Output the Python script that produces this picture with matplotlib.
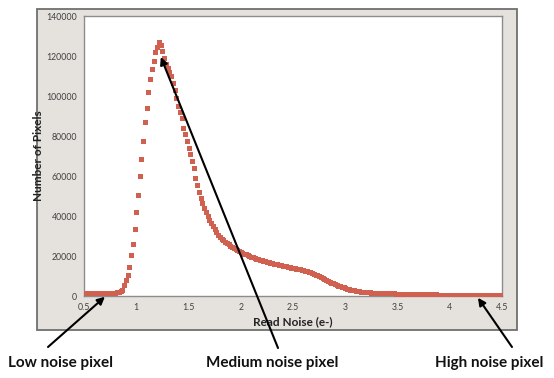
import numpy as np
import matplotlib
matplotlib.use('Agg')
import matplotlib.pyplot as plt
from matplotlib.patches import Rectangle

plt.rcParams['font.family'] = ['Lato', 'DejaVu Sans']

# read noise axis, one sample every 1/60 e-
read_noise = 0.5 + np.arange(241) / 60.0

# number of pixels (thousands)
pixels_k = [
    1.4, 1.5, 1.5, 1.5, 1.5, 1.5, 1.5, 1.5, 1.5, 1.4,
    1.4, 1.4, 1.4, 1.4, 1.4, 1.4, 1.5, 1.5, 1.6, 1.8,
    2.1, 2.5, 3.0, 5.5, 8.0, 10.7, 14.7, 20.3, 26.0, 33.7,
    42.0, 50.5, 60.2, 68.5, 77.5, 87.0, 93.8, 101.8, 108.5, 113.3,
    117.5, 121.8, 124.7, 127.2, 125.5, 122.5, 119.0, 116.0, 114.0, 112.0,
    110.0, 106.5, 103.0, 99.0, 95.0, 92.0, 89.0, 84.0, 81.0, 77.5,
    74.0, 71.0, 67.5, 64.0, 59.0, 55.5, 52.0, 49.0, 46.5, 44.0,
    42.0, 40.0, 38.0, 36.3, 34.8, 33.3, 31.8, 30.6, 29.6, 28.7,
    27.9, 27.2, 26.5, 25.8, 25.2, 24.6, 24.1, 23.6, 23.1, 22.6,
    22.1, 21.6, 21.2, 20.8, 20.4, 20.0, 19.6, 19.3, 19.0, 18.7,
    18.4, 18.1, 17.8, 17.5, 17.3, 17.0, 16.8, 16.6, 16.4, 16.2,
    16.0, 15.8, 15.6, 15.4, 15.2, 15.0, 14.8, 14.6, 14.4, 14.2,
    14.0, 13.8, 13.7, 13.5, 13.3, 13.1, 12.9, 12.7, 12.4, 12.1,
    11.8, 11.5, 11.1, 10.7, 10.3, 9.9, 9.5, 9.1, 8.6, 8.1,
    7.6, 7.1, 6.7, 6.3, 5.9, 5.5, 5.2, 4.9, 4.6, 4.3,
    4.0, 3.7, 3.4, 3.2, 3.0, 2.8, 2.6, 2.4, 2.3, 2.2,
    2.1, 2.0, 1.9, 1.8, 1.8, 1.7, 1.7, 1.6, 1.6, 1.5,
    1.5, 1.5, 1.4, 1.4, 1.4, 1.3, 1.3, 1.3, 1.3, 1.2,
    1.2, 1.2, 1.2, 1.1, 1.1, 1.1, 1.1, 1.0, 1.0, 1.0,
    1.0, 1.0, 0.9, 0.9, 0.9, 0.9, 0.9, 0.8, 0.8, 0.8,
    0.8, 0.8, 0.8, 0.7, 0.7, 0.7, 0.7, 0.7, 0.7, 0.6,
    0.6, 0.6, 0.6, 0.6, 0.6, 0.5, 0.5, 0.5, 0.5, 0.5,
    0.5, 0.5, 0.4, 0.4, 0.4, 0.4, 0.4, 0.4, 0.4, 0.4,
    0.3, 0.3, 0.3, 0.3, 0.3, 0.3, 0.3, 0.3, 0.3, 0.3, 0.3,
]
pixels = np.array(pixels_k) * 1000

x_ticks = [0.5, 1, 1.5, 2, 2.5, 3, 3.5, 4, 4.5]
x_tick_labels = ['0.5', '1', '1.5', '2', '2.5', '3', '3.5', '4', '4.5']
y_ticks = [0, 20000, 40000, 60000, 80000, 100000, 120000, 140000]

# callouts: (label, arrow head in data coords, arrow tail px, label centre px)
callouts = [
    ('Low noise pixel', (0.70, -400), (48, 31), (60, 15)),
    ('Medium noise pixel', (1.235, 119500), (278, 30), (272, 15)),
    ('High noise pixel', (4.27, -900), (512, 31), (489, 15)),
]

W, H = 554, 378
fig = plt.figure(figsize=(W / 100, H / 100), dpi=100)
fig.patch.set_facecolor('white')

# excel-style grey chart frame
frame = Rectangle((37 / W, 1 - 330 / H), 480 / W, 321 / H, transform=fig.transFigure,
                  facecolor='#e5e1dd', edgecolor='#6f6f6f', lw=1.3, zorder=-5)
fig.patches.append(frame)

ax = fig.add_axes([84 / W, 1 - 296 / H, 418 / W, 280 / H])
ax.set_zorder(2)
ax.set_facecolor('white')
ax.plot(read_noise, pixels, 's', color='#d0604f', markersize=3.6, markeredgewidth=0, zorder=3)

ax.set_xlim(0.5, 4.5)
ax.set_ylim(0, 140000)
ax.set_xticks(x_ticks)
ax.set_xticklabels(x_tick_labels)
ax.set_yticks(y_ticks)
ax.set_yticklabels([str(v) for v in y_ticks])
ax.tick_params(axis='both', length=0, labelsize=6.3, labelcolor='#404040', pad=5)
for s in ax.spines.values():
    s.set_color('#8c8c8c')
    s.set_linewidth(1.0)

ax.set_xlabel('Read Noise (e-)', fontsize=8.5, fontweight='bold', color='#222222', labelpad=3)
ax.set_ylabel('Number of Pixels', fontsize=8.5, fontweight='bold', color='#222222', labelpad=2)

for label, head, tail, pos in callouts:
    ax.annotate('', xy=head, xycoords='data', xytext=tail, textcoords='figure pixels',
                arrowprops=dict(arrowstyle='-|>', color='black', lw=1.5, mutation_scale=11,
                                shrinkA=0, shrinkB=0),
                annotation_clip=False, zorder=5)
    fig.text(pos[0] / W, pos[1] / H, label, ha='center', va='center',
             fontsize=11, fontweight='bold', color='#111111')

fig.savefig('out.png', dpi=100)
